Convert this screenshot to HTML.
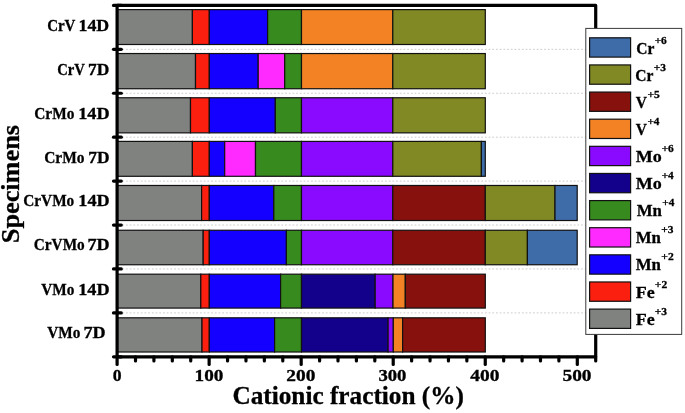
<!DOCTYPE html>
<html><head><meta charset="utf-8"><style>
html,body{margin:0;padding:0;background:#fff;}
svg{display:block;will-change:transform;}
text{font-family:"Liberation Serif",serif;font-weight:bold;fill:#000;stroke:#000;stroke-width:0.3px;}
</style></head><body>
<svg width="685" height="413" viewBox="0 0 685 413">
<rect width="685" height="413" fill="#fff"/>
<line x1="118.6" y1="49.33" x2="594" y2="49.33" stroke="#cdcdcd" stroke-width="1" stroke-dasharray="1.8 1.9"/><line x1="118.6" y1="93.25" x2="594" y2="93.25" stroke="#cdcdcd" stroke-width="1" stroke-dasharray="1.8 1.9"/><line x1="118.6" y1="137.18" x2="594" y2="137.18" stroke="#cdcdcd" stroke-width="1" stroke-dasharray="1.8 1.9"/><line x1="118.6" y1="181.10" x2="594" y2="181.10" stroke="#cdcdcd" stroke-width="1" stroke-dasharray="1.8 1.9"/><line x1="118.6" y1="225.03" x2="594" y2="225.03" stroke="#cdcdcd" stroke-width="1" stroke-dasharray="1.8 1.9"/><line x1="118.6" y1="268.95" x2="594" y2="268.95" stroke="#cdcdcd" stroke-width="1" stroke-dasharray="1.8 1.9"/><line x1="118.6" y1="312.88" x2="594" y2="312.88" stroke="#cdcdcd" stroke-width="1" stroke-dasharray="1.8 1.9"/><rect x="117.10" y="9.60" width="75.30" height="34.90" fill="#808280" stroke="#111" stroke-width="1.2"/><rect x="192.40" y="9.60" width="16.90" height="34.90" fill="#fb1f10" stroke="#111" stroke-width="1.2"/><rect x="209.30" y="9.60" width="58.30" height="34.90" fill="#1400ff" stroke="#111" stroke-width="1.2"/><rect x="267.60" y="9.60" width="33.90" height="34.90" fill="#378b1e" stroke="#111" stroke-width="1.2"/><rect x="301.50" y="9.60" width="91.30" height="34.90" fill="#f28224" stroke="#111" stroke-width="1.2"/><rect x="392.80" y="9.60" width="92.50" height="34.90" fill="#808923" stroke="#111" stroke-width="1.2"/><rect x="117.10" y="53.53" width="78.40" height="35.20" fill="#808280" stroke="#111" stroke-width="1.2"/><rect x="195.50" y="53.53" width="13.80" height="35.20" fill="#fb1f10" stroke="#111" stroke-width="1.2"/><rect x="209.30" y="53.53" width="48.90" height="35.20" fill="#1400ff" stroke="#111" stroke-width="1.2"/><rect x="258.20" y="53.53" width="26.50" height="35.20" fill="#ff2aff" stroke="#111" stroke-width="1.2"/><rect x="284.70" y="53.53" width="16.80" height="35.20" fill="#378b1e" stroke="#111" stroke-width="1.2"/><rect x="301.50" y="53.53" width="91.30" height="35.20" fill="#f28224" stroke="#111" stroke-width="1.2"/><rect x="392.80" y="53.53" width="92.50" height="35.20" fill="#808923" stroke="#111" stroke-width="1.2"/><rect x="117.10" y="97.76" width="73.40" height="35.10" fill="#808280" stroke="#111" stroke-width="1.2"/><rect x="190.50" y="97.76" width="18.80" height="35.10" fill="#fb1f10" stroke="#111" stroke-width="1.2"/><rect x="209.30" y="97.76" width="66.00" height="35.10" fill="#1400ff" stroke="#111" stroke-width="1.2"/><rect x="275.30" y="97.76" width="26.20" height="35.10" fill="#378b1e" stroke="#111" stroke-width="1.2"/><rect x="301.50" y="97.76" width="91.30" height="35.10" fill="#8a0aff" stroke="#111" stroke-width="1.2"/><rect x="392.80" y="97.76" width="92.50" height="35.10" fill="#808923" stroke="#111" stroke-width="1.2"/><rect x="117.10" y="141.39" width="75.30" height="34.90" fill="#808280" stroke="#111" stroke-width="1.2"/><rect x="192.40" y="141.39" width="16.90" height="34.90" fill="#fb1f10" stroke="#111" stroke-width="1.2"/><rect x="209.30" y="141.39" width="15.40" height="34.90" fill="#1400ff" stroke="#111" stroke-width="1.2"/><rect x="224.70" y="141.39" width="30.80" height="34.90" fill="#ff2aff" stroke="#111" stroke-width="1.2"/><rect x="255.50" y="141.39" width="46.00" height="34.90" fill="#378b1e" stroke="#111" stroke-width="1.2"/><rect x="301.50" y="141.39" width="91.30" height="34.90" fill="#8a0aff" stroke="#111" stroke-width="1.2"/><rect x="392.80" y="141.39" width="88.60" height="34.90" fill="#808923" stroke="#111" stroke-width="1.2"/><rect x="481.40" y="141.39" width="3.90" height="34.90" fill="#3e6ca8" stroke="#111" stroke-width="1.2"/><rect x="117.10" y="185.47" width="84.50" height="35.05" fill="#808280" stroke="#111" stroke-width="1.2"/><rect x="201.60" y="185.47" width="7.70" height="35.05" fill="#fb1f10" stroke="#111" stroke-width="1.2"/><rect x="209.30" y="185.47" width="64.50" height="35.05" fill="#1400ff" stroke="#111" stroke-width="1.2"/><rect x="273.80" y="185.47" width="27.70" height="35.05" fill="#378b1e" stroke="#111" stroke-width="1.2"/><rect x="301.50" y="185.47" width="91.30" height="35.05" fill="#8a0aff" stroke="#111" stroke-width="1.2"/><rect x="392.80" y="185.47" width="92.50" height="35.05" fill="#86110d" stroke="#111" stroke-width="1.2"/><rect x="485.30" y="185.47" width="69.70" height="35.05" fill="#808923" stroke="#111" stroke-width="1.2"/><rect x="555.00" y="185.47" width="22.20" height="35.05" fill="#3e6ca8" stroke="#111" stroke-width="1.2"/><rect x="117.10" y="230.25" width="86.10" height="34.50" fill="#808280" stroke="#111" stroke-width="1.2"/><rect x="203.20" y="230.25" width="6.10" height="34.50" fill="#fb1f10" stroke="#111" stroke-width="1.2"/><rect x="209.30" y="230.25" width="77.10" height="34.50" fill="#1400ff" stroke="#111" stroke-width="1.2"/><rect x="286.40" y="230.25" width="15.10" height="34.50" fill="#378b1e" stroke="#111" stroke-width="1.2"/><rect x="301.50" y="230.25" width="91.30" height="34.50" fill="#8a0aff" stroke="#111" stroke-width="1.2"/><rect x="392.80" y="230.25" width="92.50" height="34.50" fill="#86110d" stroke="#111" stroke-width="1.2"/><rect x="485.30" y="230.25" width="42.10" height="34.50" fill="#808923" stroke="#111" stroke-width="1.2"/><rect x="527.40" y="230.25" width="49.80" height="34.50" fill="#3e6ca8" stroke="#111" stroke-width="1.2"/><rect x="117.10" y="274.18" width="83.70" height="33.90" fill="#808280" stroke="#111" stroke-width="1.2"/><rect x="200.80" y="274.18" width="8.50" height="33.90" fill="#fb1f10" stroke="#111" stroke-width="1.2"/><rect x="209.30" y="274.18" width="71.30" height="33.90" fill="#1400ff" stroke="#111" stroke-width="1.2"/><rect x="280.60" y="274.18" width="20.90" height="33.90" fill="#378b1e" stroke="#111" stroke-width="1.2"/><rect x="301.50" y="274.18" width="73.70" height="33.90" fill="#13008b" stroke="#111" stroke-width="1.2"/><rect x="375.20" y="274.18" width="17.80" height="33.90" fill="#8a0aff" stroke="#111" stroke-width="1.2"/><rect x="393.00" y="274.18" width="12.30" height="33.90" fill="#f28224" stroke="#111" stroke-width="1.2"/><rect x="405.30" y="274.18" width="80.00" height="33.90" fill="#86110d" stroke="#111" stroke-width="1.2"/><rect x="117.10" y="317.81" width="84.90" height="34.20" fill="#808280" stroke="#111" stroke-width="1.2"/><rect x="202.00" y="317.81" width="7.30" height="34.20" fill="#fb1f10" stroke="#111" stroke-width="1.2"/><rect x="209.30" y="317.81" width="65.30" height="34.20" fill="#1400ff" stroke="#111" stroke-width="1.2"/><rect x="274.60" y="317.81" width="26.90" height="34.20" fill="#378b1e" stroke="#111" stroke-width="1.2"/><rect x="301.50" y="317.81" width="86.60" height="34.20" fill="#13008b" stroke="#111" stroke-width="1.2"/><rect x="388.10" y="317.81" width="5.20" height="34.20" fill="#8a0aff" stroke="#111" stroke-width="1.2"/><rect x="393.30" y="317.81" width="9.30" height="34.20" fill="#f28224" stroke="#111" stroke-width="1.2"/><rect x="402.60" y="317.81" width="82.70" height="34.20" fill="#86110d" stroke="#111" stroke-width="1.2"/>
<g stroke="#000" stroke-width="3.2" stroke-linecap="round" fill="none"><path d="M117.1 356.8 V5.4 H595.71 V356.8 Z" stroke-linejoin="round"/><line x1="113.50" y1="5.40" x2="121.30" y2="5.40"/><line x1="113.50" y1="49.33" x2="121.30" y2="49.33"/><line x1="113.50" y1="93.25" x2="121.30" y2="93.25"/><line x1="113.50" y1="137.18" x2="121.30" y2="137.18"/><line x1="113.50" y1="181.10" x2="121.30" y2="181.10"/><line x1="113.50" y1="225.03" x2="121.30" y2="225.03"/><line x1="113.50" y1="268.95" x2="121.30" y2="268.95"/><line x1="113.50" y1="312.88" x2="121.30" y2="312.88"/><line x1="113.50" y1="356.80" x2="121.30" y2="356.80"/><line x1="117.10" y1="356.8" x2="117.10" y2="364.40"/><line x1="135.51" y1="356.8" x2="135.51" y2="361.00"/><line x1="153.92" y1="356.8" x2="153.92" y2="361.00"/><line x1="172.32" y1="356.8" x2="172.32" y2="361.00"/><line x1="190.73" y1="356.8" x2="190.73" y2="361.00"/><line x1="209.14" y1="356.8" x2="209.14" y2="364.40"/><line x1="227.55" y1="356.8" x2="227.55" y2="361.00"/><line x1="245.96" y1="356.8" x2="245.96" y2="361.00"/><line x1="264.36" y1="356.8" x2="264.36" y2="361.00"/><line x1="282.77" y1="356.8" x2="282.77" y2="361.00"/><line x1="301.18" y1="356.8" x2="301.18" y2="364.40"/><line x1="319.59" y1="356.8" x2="319.59" y2="361.00"/><line x1="338.00" y1="356.8" x2="338.00" y2="361.00"/><line x1="356.40" y1="356.8" x2="356.40" y2="361.00"/><line x1="374.81" y1="356.8" x2="374.81" y2="361.00"/><line x1="393.22" y1="356.8" x2="393.22" y2="364.40"/><line x1="411.63" y1="356.8" x2="411.63" y2="361.00"/><line x1="430.04" y1="356.8" x2="430.04" y2="361.00"/><line x1="448.44" y1="356.8" x2="448.44" y2="361.00"/><line x1="466.85" y1="356.8" x2="466.85" y2="361.00"/><line x1="485.26" y1="356.8" x2="485.26" y2="364.40"/><line x1="503.67" y1="356.8" x2="503.67" y2="361.00"/><line x1="522.08" y1="356.8" x2="522.08" y2="361.00"/><line x1="540.48" y1="356.8" x2="540.48" y2="361.00"/><line x1="558.89" y1="356.8" x2="558.89" y2="361.00"/><line x1="577.30" y1="356.8" x2="577.30" y2="364.40"/><line x1="595.71" y1="356.8" x2="595.71" y2="361.00"/></g>
<rect x="585.8" y="28.4" width="95.9" height="306" fill="#fff" stroke="#3a3a3a" stroke-width="1"/><rect x="589.6" y="37.80" width="41" height="19.3" fill="#3e6ca8" stroke="#111" stroke-width="1.2"/><text transform="translate(636.22,53.60) scale(0.9143,1)" font-size="17">Cr</text><text transform="translate(654.63,43.60) scale(1.0337,1)" font-size="11" stroke="#000" stroke-width="0.3">+6</text><rect x="589.6" y="64.93" width="41" height="19.3" fill="#808923" stroke="#111" stroke-width="1.2"/><text transform="translate(635.22,80.70) scale(0.9143,1)" font-size="17">Cr</text><text transform="translate(653.63,70.70) scale(1.0403,1)" font-size="11" stroke="#000" stroke-width="0.3">+3</text><rect x="589.6" y="92.06" width="41" height="19.3" fill="#86110d" stroke="#111" stroke-width="1.2"/><text transform="translate(635.81,107.80) scale(0.9076,1)" font-size="17">V</text><text transform="translate(647.42,97.80) scale(1.0469,1)" font-size="11" stroke="#000" stroke-width="0.3">+5</text><rect x="589.6" y="119.19" width="41" height="19.3" fill="#f28224" stroke="#111" stroke-width="1.2"/><text transform="translate(635.81,134.90) scale(0.9076,1)" font-size="17">V</text><text transform="translate(647.43,124.90) scale(1.0273,1)" font-size="11" stroke="#000" stroke-width="0.3">+4</text><rect x="589.6" y="146.32" width="41" height="19.3" fill="#8a0aff" stroke="#111" stroke-width="1.2"/><text transform="translate(635.66,162.00) scale(1.0599,1)" font-size="17">Mo</text><text transform="translate(661.63,152.00) scale(1.0337,1)" font-size="11" stroke="#000" stroke-width="0.3">+6</text><rect x="589.6" y="173.45" width="41" height="19.3" fill="#13008b" stroke="#111" stroke-width="1.2"/><text transform="translate(635.66,189.10) scale(1.0599,1)" font-size="17">Mo</text><text transform="translate(661.63,179.10) scale(1.0273,1)" font-size="11" stroke="#000" stroke-width="0.3">+4</text><rect x="589.6" y="200.58" width="41" height="19.3" fill="#378b1e" stroke="#111" stroke-width="1.2"/><text transform="translate(636.68,216.20) scale(0.9892,1)" font-size="17">Mn</text><text transform="translate(662.34,206.20) scale(1.0273,1)" font-size="11" stroke="#000" stroke-width="0.3">+4</text><rect x="589.6" y="227.71" width="41" height="19.3" fill="#ff2aff" stroke="#111" stroke-width="1.2"/><text transform="translate(635.68,243.30) scale(0.9892,1)" font-size="17">Mn</text><text transform="translate(661.33,233.30) scale(1.0403,1)" font-size="11" stroke="#000" stroke-width="0.3">+3</text><rect x="589.6" y="254.84" width="41" height="19.3" fill="#1400ff" stroke="#111" stroke-width="1.2"/><text transform="translate(635.68,270.40) scale(0.9892,1)" font-size="17">Mn</text><text transform="translate(661.32,260.40) scale(1.0536,1)" font-size="11" stroke="#000" stroke-width="0.3">+2</text><rect x="589.6" y="281.97" width="41" height="19.3" fill="#fb1f10" stroke="#111" stroke-width="1.2"/><text transform="translate(635.66,297.50) scale(1.0574,1)" font-size="17">Fe</text><text transform="translate(654.82,287.50) scale(1.0536,1)" font-size="11" stroke="#000" stroke-width="0.3">+2</text><rect x="589.6" y="309.10" width="41" height="19.3" fill="#808280" stroke="#111" stroke-width="1.2"/><text transform="translate(635.66,324.60) scale(1.0574,1)" font-size="17">Fe</text><text transform="translate(654.83,314.60) scale(1.0403,1)" font-size="11" stroke="#000" stroke-width="0.3">+3</text>
<text transform="translate(47.15,31.10) scale(0.9066,1)" font-size="16.5">CrV</text><text transform="translate(78.45,31.10) scale(1.0838,1)" font-size="16.5">14D</text><text transform="translate(57.17,74.90) scale(0.8900,1)" font-size="16.5">CrV</text><text transform="translate(87.92,74.90) scale(1.0564,1)" font-size="16.5">7D</text><text transform="translate(34.23,118.80) scale(0.9312,1)" font-size="16.5">CrMo</text><text transform="translate(78.22,118.80) scale(1.1066,1)" font-size="16.5">14D</text><text transform="translate(44.23,162.70) scale(0.9360,1)" font-size="16.5">CrMo</text><text transform="translate(88.32,162.70) scale(1.0564,1)" font-size="16.5">7D</text><text transform="translate(23.23,206.40) scale(0.9286,1)" font-size="16.5">CrVMo</text><text transform="translate(78.32,206.40) scale(1.1028,1)" font-size="16.5">14D</text><text transform="translate(33.73,250.20) scale(0.9286,1)" font-size="16.5">CrVMo</text><text transform="translate(87.48,250.20) scale(1.0997,1)" font-size="16.5">7D</text><text transform="translate(41.21,294.50) scale(0.9267,1)" font-size="16.5">VMo</text><text transform="translate(78.22,294.50) scale(1.1066,1)" font-size="16.5">14D</text><text transform="translate(47.21,338.40) scale(0.9267,1)" font-size="16.5">VMo</text><text transform="translate(83.48,338.40) scale(1.0997,1)" font-size="16.5">7D</text><text transform="translate(112.64,380.70) scale(1.1029,1)" font-size="16">0</text><text transform="translate(194.54,380.70) scale(1.1991,1)" font-size="16">100</text><text transform="translate(286.35,380.70) scale(1.2115,1)" font-size="16">200</text><text transform="translate(378.40,380.70) scale(1.1667,1)" font-size="16">300</text><text transform="translate(470.36,380.70) scale(1.2155,1)" font-size="16">400</text><text transform="translate(562.47,380.70) scale(1.2105,1)" font-size="16">500</text><text transform="translate(232.44,403.60) scale(1.0105,1)" font-size="25">Cationic fraction (%)</text><text transform="translate(18.8,243.18) rotate(-90) scale(1.0510,1)" font-size="25">Specimens</text>
</svg>
</body></html>
